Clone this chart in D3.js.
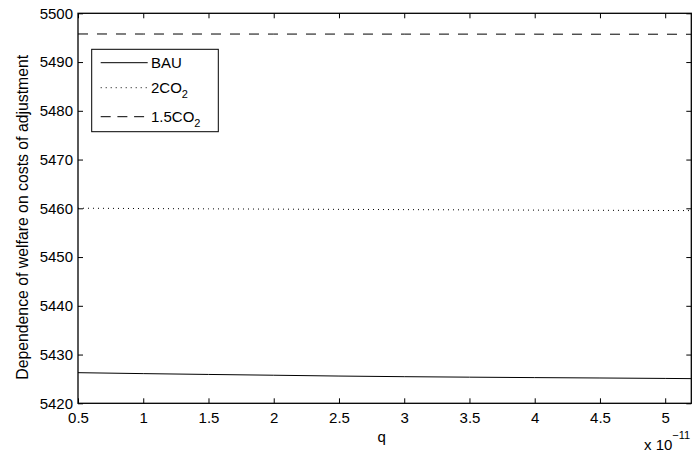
<!DOCTYPE html>
<html>
<head>
<meta charset="utf-8">
<script src="https://cdn.jsdelivr.net/npm/d3@7/dist/d3.min.js"></script>
<style>
  html, body { margin: 0; padding: 0; background: #fff; }
  svg { display: block; }
  text { font-family: "Liberation Sans", Arial, Helvetica, sans-serif; fill: #000; }
</style>
</head>
<body>
<svg id="chart" width="692" height="457"></svg>
<script>
// ---- data ----
const qValues = [0.5, 1.0, 1.5, 2.0, 2.5, 3.0, 3.5, 4.0, 4.5, 5.0, 5.2];
const bauValues = [5426.28, 5426.09, 5425.92, 5425.76, 5425.59, 5425.46, 5425.36, 5425.27, 5425.19, 5425.10, 5425.06];
const co2x2Values = [5460.02, 5459.95, 5459.89, 5459.83, 5459.78, 5459.73, 5459.68, 5459.63, 5459.59, 5459.55, 5459.53];
const co2x15Values = [5495.76, 5495.75, 5495.75, 5495.74, 5495.74, 5495.73, 5495.73, 5495.72, 5495.71, 5495.71, 5495.70];
const xTicks = [0.5, 1, 1.5, 2, 2.5, 3, 3.5, 4, 4.5, 5];
const yTicks = [5420, 5430, 5440, 5450, 5460, 5470, 5480, 5490, 5500];
const seriesNames = ["BAU", "2CO2", "1.5CO2"];
const xDomain = [0.5, 5.2];
const yDomain = [5420, 5500];

// ---- layout ----
const L = 78, R = 691.3, T = 13.3, B = 403.3;
const svg = d3.select("#chart");
const x = d3.scaleLinear().domain(xDomain).range([L, R]);
const y = d3.scaleLinear().domain(yDomain).range([B, T]);
const fs = 15;

svg.append("rect").attr("x", L).attr("y", T).attr("width", R - L).attr("height", B - T).attr("fill", "#fff");

const lineGen = vals => d3.line().x((d, i) => x(qValues[i])).y(d => y(d))(vals);
svg.append("clipPath").attr("id", "clip").append("rect")
  .attr("x", L).attr("y", T).attr("width", R - L).attr("height", B - T);
const g = svg.append("g").attr("clip-path", "url(#clip)");
g.append("path").attr("d", lineGen(bauValues)).attr("fill", "none").attr("stroke", "#000").attr("stroke-width", 1);
g.append("path").attr("d", lineGen(co2x2Values)).attr("fill", "none").attr("stroke", "#000").attr("stroke-width", 1).attr("stroke-dasharray", "1,4");
g.append("path").attr("d", lineGen(co2x15Values)).attr("fill", "none").attr("stroke", "#000").attr("stroke-width", 1).attr("stroke-dasharray", "10,9");

const tickLen = 5;
const xAxisB = d3.axisBottom(x).tickValues(xTicks).tickSize(-tickLen).tickPadding(9).tickFormat(d3.format("~g"));
const xAxisT = d3.axisTop(x).tickValues(xTicks).tickSize(-tickLen).tickFormat("");
const yAxisL = d3.axisLeft(y).tickValues(yTicks).tickSize(-tickLen).tickPadding(5).tickFormat(d3.format("d"));
const yAxisR = d3.axisRight(y).tickValues(yTicks).tickSize(-tickLen).tickFormat("");

function styleAxis(sel) {
  sel.select(".domain").remove();
  sel.selectAll(".tick line").attr("stroke", "#000").attr("stroke-width", 1);
  sel.selectAll(".tick text").attr("font-size", fs).attr("font-family", "Liberation Sans, Arial, sans-serif").attr("fill", "#000");
}
svg.append("g").attr("transform", `translate(0,${B})`).call(xAxisB).call(styleAxis);
svg.append("g").attr("transform", `translate(0,${T})`).call(xAxisT).call(styleAxis);
svg.append("g").attr("transform", `translate(${L},0)`).call(yAxisL).call(styleAxis);
svg.append("g").attr("transform", `translate(${R},0)`).call(yAxisR).call(styleAxis);

svg.append("rect").attr("x", L).attr("y", T).attr("width", R - L).attr("height", B - T)
  .attr("fill", "none").attr("stroke", "#000").attr("stroke-width", 1.3);

svg.append("text").attr("x", (L + R) / 2 - 3).attr("y", 442).attr("text-anchor", "middle").attr("font-size", fs).text("q");
svg.append("text").attr("transform", `translate(27.5,${(T + B) / 2 + 9}) rotate(-90)`).attr("text-anchor", "middle")
  .attr("font-size", 15.8).text("Dependence of welfare on costs of adjustment");

const mult = svg.append("text").attr("x", 644).attr("y", 450).attr("font-size", fs);
mult.append("tspan").text("x 10");
mult.append("tspan").attr("dy", -11).attr("font-size", 11).text("\u221211");

const lg = svg.append("g");
lg.append("rect").attr("x", 91.7).attr("y", 49.3).attr("width", 126.6).attr("height", 82.4)
  .attr("fill", "#fff").attr("stroke", "#000").attr("stroke-width", 1);
const legendRows = [
  { name: seriesNames[0], dash: null, ly: 62.7, ty: 68 },
  { name: seriesNames[1], dash: "1,4", ly: 87.7, ty: 93 },
  { name: seriesNames[2], dash: "10,6.7", ly: 116.7, ty: 122 }
];
legendRows.forEach(r => {
  const ln = lg.append("line").attr("x1", 100.7).attr("x2", 147.7).attr("y1", r.ly).attr("y2", r.ly)
    .attr("stroke", "#000").attr("stroke-width", 1);
  if (r.dash) ln.attr("stroke-dasharray", r.dash);
  const t = lg.append("text").attr("x", 151).attr("y", r.ty).attr("font-size", fs);
  const m = r.name.match(/^(.*CO)(2)$/);
  if (m) {
    t.append("tspan").text(m[1]);
    t.append("tspan").attr("dy", 5).attr("font-size", 11).text(m[2]);
  } else {
    t.text(r.name);
  }
});
</script>
</body>
</html>
